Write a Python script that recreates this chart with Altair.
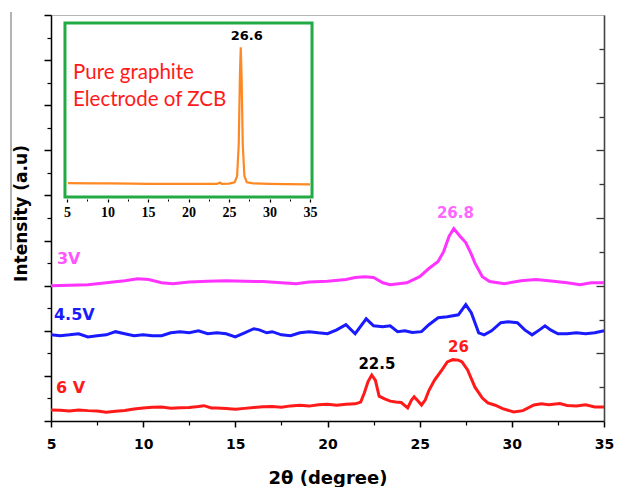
import altair as alt
import pandas as pd

# ---- main XRD patterns (2theta, intensity in arbitrary stacked units) ----
x_6v = [5, 5.5, 6, 6.5, 7, 7.5, 8, 8.5, 9, 9.5, 10, 10.5, 11, 11.5, 12, 12.5, 13, 13.3, 13.7, 14,
        14.5, 15, 15.5, 16, 16.5, 17, 17.5, 18, 18.5, 19, 19.5, 20, 20.5, 21, 21.5, 21.8, 22.0, 22.2,
        22.4, 22.6, 22.8, 23.1, 23.4, 23.7, 24.0, 24.35, 24.55, 24.7, 24.9, 25.1, 25.3, 25.5, 25.8,
        26.2, 26.5, 26.8, 27.1, 27.3, 27.6, 28.0, 28.4, 28.7, 29.1, 29.5, 30.1, 30.6, 31.2, 31.6,
        32.0, 32.6, 33.0, 33.5, 34.0, 34.5, 35.0]
y_6v = [0.49, 0.48, 0.44, 0.49, 0.46, 0.44, 0.39, 0.43, 0.47, 0.53, 0.58, 0.61, 0.62, 0.57, 0.59,
        0.60, 0.64, 0.68, 0.58, 0.58, 0.55, 0.52, 0.56, 0.60, 0.63, 0.64, 0.61, 0.67, 0.70, 0.66,
        0.72, 0.74, 0.70, 0.74, 0.76, 0.84, 1.25, 1.75, 2.04, 1.80, 1.10, 0.98, 0.88, 0.84, 0.82,
        0.58, 0.92, 1.07, 0.90, 0.71, 0.93, 1.35, 1.80, 2.26, 2.62, 2.72, 2.70, 2.62, 2.26, 1.50,
        1.02, 0.80, 0.70, 0.55, 0.40, 0.46, 0.71, 0.76, 0.72, 0.77, 0.69, 0.67, 0.72, 0.62, 0.62]

x_45v = [5, 5.5, 6, 6.5, 7, 7.5, 8, 8.5, 9, 9.5, 10, 10.5, 11, 11.5, 12, 12.5, 13, 13.5, 14, 14.5,
         15, 15.5, 16.0, 16.3, 16.7, 17, 17.5, 18, 18.5, 19, 19.5, 20, 20.5, 21.0, 21.5, 22.1, 22.5,
         23.0, 23.4, 23.8, 24.2, 24.6, 25.1, 25.5, 26.0, 26.5, 27.1, 27.5, 27.8, 28.2, 28.5, 28.9,
         29.4, 29.8, 30.3, 30.7, 31.1, 31.5, 31.8, 32.1, 32.5, 33.0, 33.5, 34.0, 34.5, 35.0]
y_45v = [3.82, 3.78, 3.82, 3.87, 3.73, 3.78, 3.82, 3.96, 3.87, 3.78, 3.82, 3.78, 3.78, 3.91, 3.96,
         3.91, 4.00, 3.87, 3.91, 3.87, 3.73, 3.91, 4.09, 4.04, 3.91, 3.96, 3.82, 3.78, 3.91, 3.96,
         3.91, 3.87, 4.04, 4.27, 3.87, 4.53, 4.22, 4.18, 4.22, 3.96, 4.00, 3.92, 3.96, 4.27, 4.58,
         4.62, 4.71, 5.16, 4.80, 3.91, 3.82, 4.00, 4.36, 4.40, 4.36, 4.04, 3.82, 4.04, 4.22, 4.04,
         3.87, 3.87, 3.91, 3.87, 3.91, 4.00]

x_3v = [5, 6, 7, 8, 9, 9.7, 10.3, 11, 11.6, 12.5, 13.5, 14.5, 15.5, 16.5, 17.5, 18.3, 19, 20, 21.0,
        21.5, 22.0, 22.5, 23.0, 23.4, 24.3, 25.0, 25.5, 26.0, 26.3, 26.6, 26.85, 27.2, 27.5, 27.8,
        28.0, 28.4, 28.8, 29.6, 30.5, 31.3, 32.0, 33.0, 33.7, 34.3, 35.0]
y_3v = [6.00, 6.02, 6.04, 6.13, 6.22, 6.31, 6.27, 6.13, 6.09, 6.16, 6.20, 6.22, 6.20, 6.18, 6.13,
        6.09, 6.16, 6.20, 6.27, 6.36, 6.40, 6.36, 6.13, 6.04, 6.13, 6.40, 6.76, 7.07, 7.51, 8.20,
        8.53, 8.18, 7.91, 7.40, 7.00, 6.40, 6.18, 6.09, 6.22, 6.27, 6.22, 6.13, 6.04, 6.13, 6.13]

series_names = ["6 V", "4.5V", "3V"]
series_colors = ["#ff1a1a", "#1a1aff", "#ff33ff"]

# ---- inset: pure graphite electrode ----
x_inset = [5.1, 8, 10, 13, 15, 18, 20, 23.5, 23.9, 24.1, 25, 25.7, 26.0, 26.2, 26.35, 26.45,
           26.55, 26.7, 26.9, 27.2, 28, 30, 32, 35]
y_inset = [8.0, 7.8, 7.8, 7.7, 7.6, 7.5, 7.5, 7.5, 8.3, 7.6, 7.7, 8.5, 12, 30, 70, 86, 70, 30, 12,
           8.5, 7.8, 7.5, 7.4, 7.3]

# ---- annotations ----
series_label_text = ["3V", "4.5V", "6 V"]
series_label_x = [5.32, 5.16, 5.27]
series_label_y = [7.2, 4.71, 1.47]
series_label_color = ["#ff55ff", "#1a1aff", "#ff1a1a"]

peak_text = ["26.8", "22.5", "26"]
peak_x = [26.94, 22.68, 27.1]
peak_y = [9.2, 2.54, 3.29]
peak_color = ["#ff66ff", "#000000", "#ff1a1a"]

inset_text = ["Pure graphite", "Electrode of ZCB"]
inset_text_x = [5.74, 5.74]
inset_text_y = [67.6, 52.3]
inset_peak_text = ["26.6"]
inset_peak_x = [27.18]
inset_peak_y = [92.7]

x_major = [5, 10, 15, 20, 25, 30, 35]
x_minor = [7.5, 12.5, 17.5, 22.5, 27.5, 32.5]
y_major = [0, 2, 4, 6, 8, 10, 12, 14, 16, 18]
y_minor = [1, 3, 5, 7, 9, 11, 13, 15, 17]
y_right_major = [3, 6, 9, 12, 15]
y_right_minor = [1.5, 4.5, 7.5, 10.5, 13.5, 16.5]

# ---- frames ----
rows = []
for name, xs, ys in zip(series_names, [x_6v, x_45v, x_3v], [y_6v, y_45v, y_3v]):
    for i, (a, b) in enumerate(zip(xs, ys)):
        rows.append({"series": name, "x": a, "y": b, "order": i})
main_df = pd.DataFrame(rows)
inset_df = pd.DataFrame({"x": x_inset, "y": y_inset})
label_df = pd.DataFrame({"t": series_label_text, "x": series_label_x, "y": series_label_y,
                         "c": series_label_color})
peak_df = pd.DataFrame({"t": peak_text, "x": peak_x, "y": peak_y, "c": peak_color})
inset_text_df = pd.DataFrame({"t": inset_text, "x": inset_text_x, "y": inset_text_y})
inset_peak_df = pd.DataFrame({"t": inset_peak_text, "x": inset_peak_x, "y": inset_peak_y})
box_df = pd.DataFrame({"x": [4.75], "x2": [35.25], "y": [0], "y2": [100]})
helper_df = pd.DataFrame({"x": [5, 35], "y": [0, 18]})

BOLD = "DejaVu Sans"
xs_main = alt.Scale(domain=[5, 35], nice=False, zero=False)
ys_main = alt.Scale(domain=[0, 18], nice=False, zero=False)


def helper(xaxis, yaxis):
    return alt.Chart(helper_df).mark_point(opacity=0).encode(
        x=alt.X("x:Q", scale=xs_main, axis=xaxis),
        y=alt.Y("y:Q", scale=ys_main, axis=yaxis),
    )


lines = alt.Chart(main_df).mark_line(strokeWidth=3).encode(
    x=alt.X("x:Q", scale=xs_main, axis=alt.Axis(
        orient="bottom", values=x_major, tickSize=6, tickWidth=1.5, tickColor="black",
        domainColor="black", domainWidth=1.5, labelFont=BOLD, labelFontWeight="bold",
        labelFontSize=14, labelColor="black", labelPadding=10, labelFlush=False, grid=False,
        title="2θ (degree)", titleFont=BOLD, titleFontWeight="bold", titleFontSize=18,
        titleColor="black", titleBaseline="alphabetic", titleY=62)),
    y=alt.Y("y:Q", scale=ys_main, axis=alt.Axis(
        orient="left", values=y_major, tickSize=7, tickWidth=1.5, tickColor="black",
        domainColor="black", domainWidth=1.5, labels=False, grid=False,
        title="Intensity (a.u)", titleFont=BOLD, titleFontWeight="bold", titleFontSize=17,
        titleColor="black", titleBaseline="alphabetic", titleX=-25, titleY=198)),
    color=alt.Color("series:N", scale=alt.Scale(domain=series_names, range=series_colors),
                    legend=None),
    detail="series:N",
    order="order:Q",
)

minor_axes = helper(
    alt.Axis(orient="bottom", values=x_minor, tickSize=4, tickWidth=1.2, tickColor="black",
             domain=False, labels=False, grid=False, title=""),
    alt.Axis(orient="left", values=y_minor, tickSize=4, tickWidth=1.2, tickColor="black",
             domain=False, labels=False, grid=False, title=""),
)
right_major = helper(None, alt.Axis(orient="right", values=y_right_major, tickSize=8, offset=-8,
                                    tickWidth=1.3, tickColor="#333333", domain=False,
                                    labels=False, grid=False, title=""))
right_minor = helper(None, alt.Axis(orient="right", values=y_right_minor, tickSize=5, offset=-5,
                                    tickWidth=1.3, tickColor="#333333", domain=False,
                                    labels=False, grid=False, title=""))
right_domain = helper(None, alt.Axis(orient="right", ticks=False, labels=False, grid=False,
                                     domainColor="#444444", domainWidth=1.6, title=""))

labels = alt.Chart(label_df).mark_text(font=BOLD, fontWeight="bold", fontSize=16, align="left",
                                       baseline="middle").encode(
    x=alt.X("x:Q", scale=xs_main, axis=None),
    y=alt.Y("y:Q", scale=ys_main, axis=None),
    text="t:N",
    color=alt.Color("c:N", scale=None),
)
peaks = alt.Chart(peak_df).mark_text(font=BOLD, fontWeight="bold", fontSize=15, align="center",
                                     baseline="middle").encode(
    x=alt.X("x:Q", scale=xs_main, axis=None),
    y=alt.Y("y:Q", scale=ys_main, axis=None),
    text="t:N",
    color=alt.Color("c:N", scale=None),
)
edge = alt.Chart(helper_df).mark_rule(color="#9a9a9a", strokeWidth=1).encode(
    x=alt.value(-40), y=alt.value(-3), y2=alt.value(235))

main = alt.layer(lines, minor_axes, right_major, right_minor, right_domain, labels, peaks,
                 edge).resolve_axis(x="independent", y="independent")

# ---- inset layers ----
xs_in = alt.Scale(domain=[5, 35], range=[16, 259], nice=False, zero=False)
ys_in = alt.Scale(domain=[0, 100], range=[182, 8], nice=False, zero=False)

box = alt.Chart(box_df).mark_rect(fillOpacity=0, stroke="#22aa44", strokeWidth=3).encode(
    x=alt.X("x:Q", scale=xs_in, axis=None), x2="x2:Q",
    y=alt.Y("y:Q", scale=ys_in, axis=None), y2="y2:Q",
)
inset_line = alt.Chart(inset_df).mark_line(color="#ff8822", strokeWidth=2.2).encode(
    x=alt.X("x:Q", scale=xs_in, axis=alt.Axis(
        orient="bottom", offset=-222, values=x_major, tickSize=3, tickWidth=1.2,
        tickColor="black", domain=False, labelFont="Liberation Serif", labelFontWeight="bold",
        labelFontSize=14, labelColor="black", labelPadding=3, labelFlush=False, grid=False,
        title="")),
    y=alt.Y("y:Q", scale=ys_in, axis=None),
)
inset_minor = alt.Chart(inset_df).mark_point(opacity=0).encode(
    x=alt.X("x:Q", scale=xs_in, axis=alt.Axis(
        orient="bottom", offset=-222, values=x_minor, tickSize=2, tickWidth=1,
        tickColor="black", domain=False, labels=False, grid=False, title="")),
    y=alt.Y("y:Q", scale=ys_in, axis=None),
)
inset_words = alt.Chart(inset_text_df).mark_text(font="Lato", fontSize=20.5, color="#ff1a1a",
                                                  align="left", baseline="alphabetic").encode(
    x=alt.X("x:Q", scale=xs_in, axis=None),
    y=alt.Y("y:Q", scale=ys_in, axis=None),
    text="t:N",
)
inset_peak = alt.Chart(inset_peak_df).mark_text(font=BOLD, fontWeight="bold", fontSize=13,
                                                color="black", align="center",
                                                baseline="middle").encode(
    x=alt.X("x:Q", scale=xs_in, axis=None),
    y=alt.Y("y:Q", scale=ys_in, axis=None),
    text="t:N",
)
inset = alt.layer(box, inset_line, inset_minor, inset_words, inset_peak).resolve_axis(
    x="independent", y="independent")

chart = alt.layer(main, inset).resolve_scale(
    x="independent", y="independent", color="independent"
).properties(
    width=553, height=406,
    padding={"left": 43, "top": 7, "right": 10, "bottom": 66},
    autosize=alt.AutoSizeParams(type="none"),
).configure_view(stroke="#b5b5b5", strokeWidth=1)

chart.save("out.html", embed_options={"renderer": "svg", "actions": False})
